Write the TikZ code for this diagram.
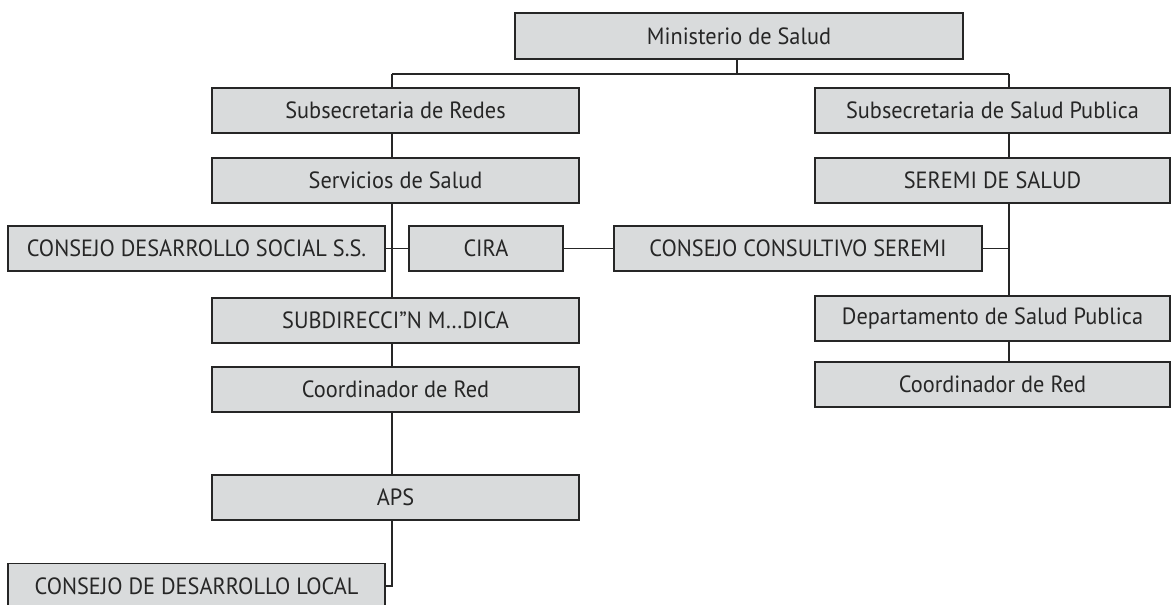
\documentclass[tikz,border=0pt]{standalone}
\usepackage{fontspec}
\setmainfont[FakeStretch=0.95]{PT Sans}
\definecolor{boxfill}{HTML}{D9DBDC}
\definecolor{boxtext}{HTML}{262626}
\tikzset{
  orgbox/.style={draw=black!85, line width=1.3pt, fill=boxfill, text=boxtext,
    minimum height=45pt, inner sep=0pt, anchor=center,
    font=\fontsize{23.5}{27}\selectfont},
  link/.style={draw=black!85, line width=1.2pt}
}
\begin{document}
\begin{tikzpicture}[x=1pt,y=-1pt]
\useasboundingbox (0,0) rectangle (1173,605);
\fill[white] (0,0) rectangle (1173,605);
\node[orgbox, minimum width=448pt, minimum height=46pt] (min) at (739,36) {Ministerio de Salud};
\node[orgbox, minimum width=367pt] (subR) at (395.5,110.5) {Subsecretaria de Redes};
\node[orgbox, minimum width=367pt] (serv) at (395.5,180.5) {Servicios de Salud};
\node[orgbox, minimum width=355pt] (subP) at (992.5,110.5) {Subsecretaria de Salud Publica};
\node[orgbox, minimum width=355pt] (seremi) at (992.5,180.5) {SEREMI DE SALUD};
\node[orgbox, minimum width=377pt] (cds) at (196.5,248.5) {CONSEJO DESARROLLO SOCIAL S.S.};
\node[orgbox, minimum width=154pt] (cira) at (486,248.5) {CIRA};
\node[orgbox, minimum width=368pt] (ccs) at (798,248.5) {CONSEJO CONSULTIVO SEREMI};
\node[orgbox, minimum width=367pt] (subd) at (395.5,320.5) {SUBDIRECCI”N M…DICA};
\node[orgbox, minimum width=355pt] (dep) at (992.5,318.5) {Departamento de Salud Publica};
\node[orgbox, minimum width=367pt] (coordL) at (395.5,389.5) {Coordinador de Red};
\node[orgbox, minimum width=355pt] (coordR) at (992.5,384.5) {Coordinador de Red};
\node[orgbox, minimum width=367pt] (aps) at (395.5,497.5) {APS};
\node[orgbox, minimum width=377pt] (cdl) at (196.5,586) {CONSEJO DE DESARROLLO LOCAL};
\coordinate (jl) at (392,74);
\coordinate (jr) at (1009,74);
\coordinate (jm) at (737,74);
\draw[link] (jm |- min.south) -- (jm);
\draw[link] (jl) -- (jr);
\draw[link] (jl) -- (jl |- subR.north);
\draw[link] (jr) -- (jr |- subP.north);
\draw[link] (jl |- subR.south) -- (jl |- serv.north);
\draw[link] (jr |- subP.south) -- (jr |- seremi.north);
\draw[link] (jl |- serv.south) -- (jl |- subd.north);
\draw[link] (cds.east) -- (cira.west);
\draw[link] (cira.east) -- (ccs.west);
\draw[link] (ccs.east) -- (jr |- ccs.east);
\draw[link] (jr |- seremi.south) -- (jr |- dep.north);
\draw[link] (jr |- dep.south) -- (jr |- coordR.north);
\draw[link] (jl |- subd.south) -- (jl |- coordL.north);
\draw[link] (jl |- coordL.south) -- (jl |- aps.north);
\draw[link] (jl |- aps.south) |- (cdl.east);
\end{tikzpicture}
\end{document}
